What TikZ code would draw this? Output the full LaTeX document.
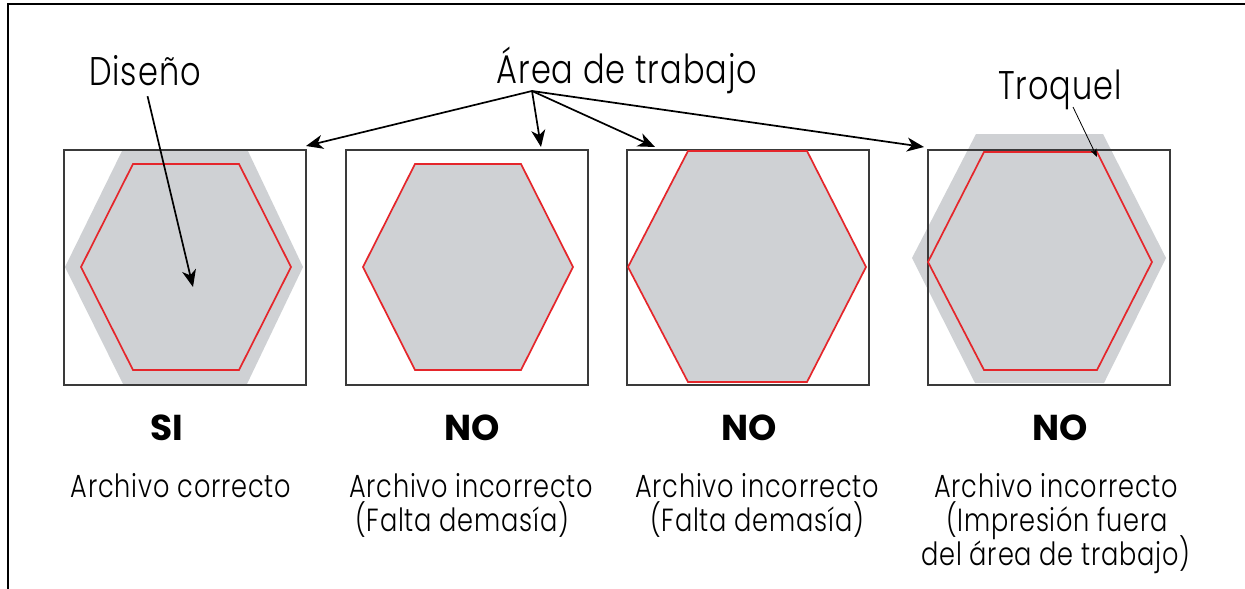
\documentclass[tikz,border=0pt]{standalone}
\usepackage{fontspec}
\setmainfont{Poppins}
\newfontfamily\txtfont[FakeStretch=0.80,LetterSpace=2.5]{Poppins Light}
\usetikzlibrary{arrows.meta}
\definecolor{hexgray}{HTML}{CFD1D4}
\definecolor{hexred}{HTML}{E5262B}
\definecolor{boxgray}{HTML}{3A3A3A}
\begin{document}
\begin{tikzpicture}[x=1pt,y=-1pt,
  hexfill/.style={fill=hexgray, draw=none},
  redhex/.style={draw=hexred, line width=1.7pt, line join=miter},
  workbox/.style={draw=boxgray, line width=1.5pt, minimum width=242pt, minimum height=235pt, inner sep=0pt, anchor=north west},
  arr/.style={draw=black, line width=1.7pt, -{Stealth[length=17pt,width=14pt,inset=5pt]}},
  thinarr/.style={draw=black, line width=0.8pt, -{Stealth[length=8pt,width=6pt,inset=2pt]}},
  biglabel/.style={font=\txtfont\fontsize{40}{48}\selectfont, inner sep=0pt, anchor=base},
  verdict/.style={font=\fontsize{36}{43}\selectfont\bfseries, inner sep=0pt, anchor=base},
  caption/.style={font=\txtfont\fontsize{32}{38}\selectfont, inner sep=0pt, anchor=base},
]
\useasboundingbox (0,0) rectangle (1245,589);
\fill[white] (0,0) rectangle (1245,589);
% frame
\draw[line width=2pt] (8,589) -- (8,4) -- (1245,4);

% panel 1
\fill[hexfill] (65,267) -- (123,149) -- (247,149) -- (303,267) -- (247,384) -- (123,384) -- cycle;
\node[workbox] (b1) at (63,149) {};
\draw[redhex] (81,267) -- (133,164) -- (239,164) -- (291,267) -- (239,370) -- (133,370) -- cycle;

% panel 2
\node[workbox] (b2) at (345,149) {};
\fill[hexfill] (363,267) -- (415,164) -- (521,164) -- (573,267) -- (521,370) -- (415,370) -- cycle;
\draw[redhex] (363,267) -- (415,164) -- (521,164) -- (573,267) -- (521,370) -- (415,370) -- cycle;

% panel 3
\node[workbox] (b3) at (626,149) {};
\fill[hexfill] (628,267) -- (688,151) -- (807,151) -- (866,267) -- (807,382) -- (688,382) -- cycle;
\draw[redhex] (628,267) -- (688,151) -- (807,151) -- (866,267) -- (807,382) -- (688,382) -- cycle;

% panel 4
\fill[hexfill] (912,258) -- (976,134) -- (1103,134) -- (1166,258) -- (1104,383) -- (975,383) -- cycle;
\node[workbox] (b4) at (927,149) {};
\draw[redhex] (928,262) -- (984,152) -- (1097,152) -- (1152,262) -- (1097,370) -- (984,370) -- cycle;

% labels
\node[biglabel] (dis) at (145,85) {Diseño};
\node[biglabel] (area) at (627,83) {Área de trabajo};
\node[biglabel] (troq) at (1060,99) {Troquel};

\coordinate (hub) at (532,91);
\coordinate (t1) at (306,146);
\coordinate (t2) at (541,147);
\coordinate (t3) at (655,147);
\coordinate (t4) at (924,147);
\coordinate (dtip) at (193,287);
\coordinate (tq0) at (1073,107);
\coordinate (tq1) at (1097,157);

\draw[arr] (hub) -- (t1);
\draw[arr] (hub) -- (t2);
\draw[arr] (hub) -- (t3);
\draw[arr] (hub) -- (t4);
\draw[arr, shorten <=11pt] (dis.south) -- (dtip);
\draw[thinarr] (tq0) -- (tq1);

% verdicts
\node[verdict] (v1) at (167,440) {SI};
\node[verdict] (v2) at (472,440) {NO};
\node[verdict] (v3) at (749,440) {NO};
\node[verdict] (v4) at (1060,440) {NO};

% captions
\node[caption] (c1) at (181,497) {Archivo correcto};
\node[caption] (c2a) at (471,497) {Archivo incorrecto};
\node[caption] (c2b) at (462,531) {(Falta demasía)};
\node[caption] (c3a) at (757,497) {Archivo incorrecto};
\node[caption] (c3b) at (757,531) {(Falta demasía)};
\node[caption] (c4a) at (1056,497) {Archivo incorrecto};
\node[caption] (c4b) at (1057,531) {(Impresión fuera};
\node[caption] (c4c) at (1056,565) {del área de trabajo)};
\end{tikzpicture}
\end{document}
